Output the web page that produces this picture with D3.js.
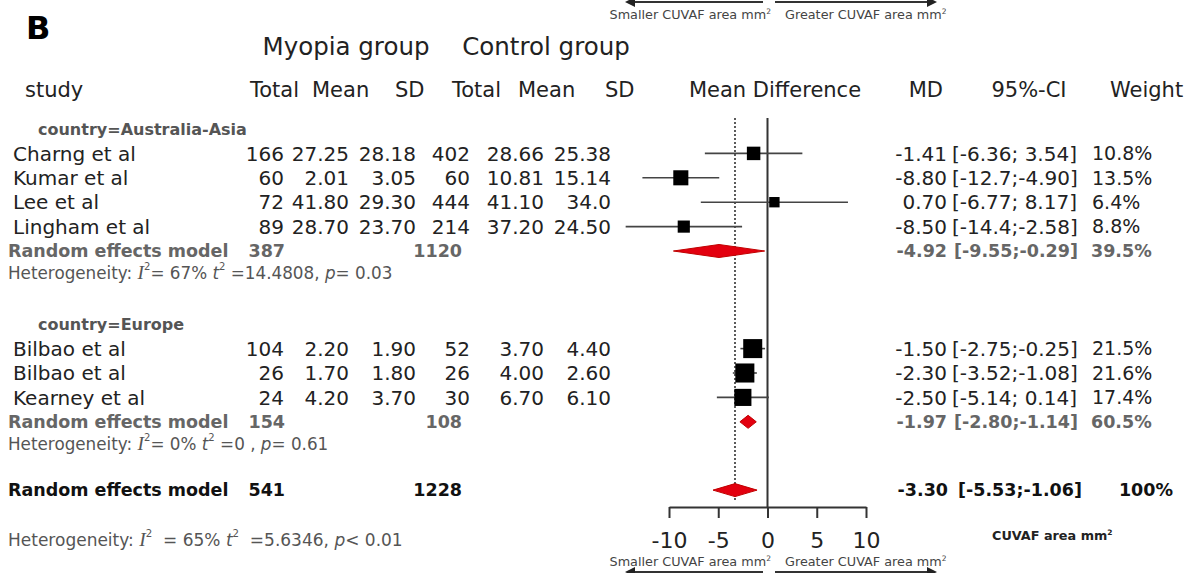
<!DOCTYPE html>
<html>
<head>
<meta charset="utf-8">
<script src="https://cdn.jsdelivr.net/npm/d3@7"></script>
<style>
  body { margin: 0; background: #fff; }
  svg { font-family: "DejaVu Sans", Verdana, sans-serif; }
</style>
</head>
<body>
<svg id="mainsvg" width="1186" height="573"></svg>
<script>
// study level data
const studies = ['Charng et al', 'Kumar et al', 'Lee et al', 'Lingham et al', 'Bilbao et al', 'Bilbao et al', 'Kearney et al'];
const country = ['Australia-Asia', 'Australia-Asia', 'Australia-Asia', 'Australia-Asia', 'Europe', 'Europe', 'Europe'];
const myopiaTotal = [166, 60, 72, 89, 104, 26, 24];
const myopiaMean = ['27.25', '2.01', '41.80', '28.70', '2.20', '1.70', '4.20'];
const myopiaSD = ['28.18', '3.05', '29.30', '23.70', '1.90', '1.80', '3.70'];
const controlTotal = [402, 60, 444, 214, 52, 26, 30];
const controlMean = ['28.66', '10.81', '41.10', '37.20', '3.70', '4.00', '6.70'];
const controlSD = ['25.38', '15.14', '34.0', '24.50', '4.40', '2.60', '6.10'];
const md = [-1.41, -8.80, 0.70, -8.50, -1.50, -2.30, -2.50];
const ciLow = [-6.36, -12.7, -6.77, -14.4, -2.75, -3.52, -5.14];
const ciHigh = [3.54, -4.90, 8.17, -2.58, -0.25, -1.08, 0.14];
const weight = [10.8, 13.5, 6.4, 8.8, 21.5, 21.6, 17.4];

// subgroup models
const subgroups = ['Australia-Asia', 'Europe'];
const subMyopiaTotal = [387, 154];
const subControlTotal = [1120, 108];
const subMD = [-4.92, -1.97];
const subLow = [-9.55, -2.80];
const subHigh = [-0.29, -1.14];
const subWeight = [39.5, 60.5];
const subI2 = ['67%', '0%'];
const subTau2 = ['14.4808', '0 '];
const subP = ['= 0.03', '= 0.61'];

// overall model
const allMyopiaTotal = 541;
const allControlTotal = 1228;
const allMD = -3.30, allLow = -5.53, allHigh = -1.06;
const allI2 = '65%', allTau2 = '5.6346', allP = '< 0.01';

const xTicks = [-10, -5, 0, 5, 10];

const svg = d3.select('#mainsvg');
const ink = '#222';
const red = '#e3000f';

const xScale = d3.scaleLinear().domain([-10, 10]).range([669, 866]);
const yScale = d3.scaleLinear().domain([0, 1]).range([129, 153.4]);
const boxSize = d3.scaleSqrt().domain([0, 25]).range([0, 20.5]);

// plain hyphen minus, as in the original table
const fmt2 = v => v.toFixed(2);
const pad5 = v => { let s = fmt2(v); if (s.length > 5) s = s.slice(0, 5); return s.padStart(5, ' '); };
const ciText = (lo, hi) => `[${pad5(lo)};${pad5(hi)}]`;

// column anchors
const col = {study: 13, n1: 284, m1: 349, s1: 416, n2: 470, m2: 544, s2: 611, md: 947, ci: 952, w: 1092};

function txt(x, y, s, opt = {}) {
  return svg.append('text')
    .attr('x', x).attr('y', y)
    .attr('dy', '0.36em')
    .attr('text-anchor', opt.anchor || 'start')
    .attr('font-size', opt.size || 20)
    .attr('font-weight', opt.bold ? 'bold' : 'normal')
    .attr('fill', opt.color || ink)
    .style('white-space', 'pre')
    .text(s);
}

// panel letter and headers
txt(26, 27, 'B', {size: 32, bold: true, color: '#000'});
txt(346, 46, 'Myopia group', {size: 24.5, anchor: 'middle'});
txt(546, 46, 'Control group', {size: 24.5, anchor: 'middle'});
txt(25, 89, 'study', {size: 21});
[['Total', 250], ['Mean', 312], ['SD', 395], ['Total', 452], ['Mean', 518], ['SD', 605]]
  .forEach(([s, x]) => txt(x, 89, s, {size: 21}));
txt(775, 89, 'Mean Difference', {size: 21, anchor: 'middle'});
txt(943, 89, 'MD', {size: 21, anchor: 'end'});
txt(1029, 89, '95%-CI', {size: 21, anchor: 'middle'});
txt(1110, 89, 'Weight', {size: 21});

// row layout
const studyRow = [1, 2, 3, 4, 9, 10, 11];
const labelRow = [0, 8];
const modelRow = [5, 12];
const hetRow = [5.9, 12.9];
const allRow = 14.8, allHetRow = 16.85;

// reference lines
svg.append('line')
  .attr('x1', xScale(0)).attr('x2', xScale(0))
  .attr('y1', 118).attr('y2', 507)
  .attr('stroke', '#333').attr('stroke-width', 2);
svg.append('line')
  .attr('x1', xScale(allMD)).attr('x2', xScale(allMD))
  .attr('y1', 118).attr('y2', 500)
  .attr('stroke', '#333').attr('stroke-width', 1.6)
  .attr('stroke-dasharray', '2,2');

// subgroup labels
subgroups.forEach((g, i) => {
  txt(38, yScale(labelRow[i]), 'country=' + g, {size: 16, bold: true, color: '#555'});
});

// study rows
studies.forEach((s, i) => {
  const y = yScale(studyRow[i]);
  txt(col.study, y, s);
  txt(col.n1, y, myopiaTotal[i], {anchor: 'end'});
  txt(col.m1, y, myopiaMean[i], {anchor: 'end'});
  txt(col.s1, y, myopiaSD[i], {anchor: 'end'});
  txt(col.n2, y, controlTotal[i], {anchor: 'end'});
  txt(col.m2, y, controlMean[i], {anchor: 'end'});
  txt(col.s2, y, controlSD[i], {anchor: 'end'});
  txt(col.md, y, fmt2(md[i]), {anchor: 'end'});
  txt(col.ci, y, ciText(ciLow[i], ciHigh[i]));
  txt(col.w, y, weight[i].toFixed(1) + '%', {size: 19});

  svg.append('line')
    .attr('x1', xScale(ciLow[i])).attr('x2', xScale(ciHigh[i]))
    .attr('y1', y).attr('y2', y)
    .attr('stroke', '#444').attr('stroke-width', 1.6);
  const b = boxSize(weight[i]);
  svg.append('rect')
    .attr('x', xScale(md[i]) - b / 2).attr('y', y - b / 2)
    .attr('width', b).attr('height', b)
    .attr('fill', '#000');
});

function diamond(lo, est, hi, y) {
  const h = 6.5;
  svg.append('path')
    .attr('d', `M${xScale(lo)},${y} L${xScale(est)},${y - h} L${xScale(hi)},${y} L${xScale(est)},${y + h} Z`)
    .attr('fill', red).attr('stroke', '#c00000').attr('stroke-width', 1);
}

function hetero(y, i2, tau2, p, size, iGap, tGap) {
  const t = svg.append('text')
    .attr('x', 8).attr('y', y).attr('dy', '0.36em')
    .attr('font-size', size).attr('fill', '#555')
    .style('white-space', 'pre');
  t.append('tspan').text('Heterogeneity: ');
  t.append('tspan').attr('font-family', 'Liberation Serif, serif').attr('font-style', 'italic').attr('font-size', size * 1.15).text('I');
  t.append('tspan').attr('font-size', size * 0.6).attr('dy', -size * 0.55).text('2');
  t.append('tspan').attr('dy', size * 0.55).text(iGap + '= ' + i2 + ' ');
  t.append('tspan').attr('font-style', 'italic').text('t');
  t.append('tspan').attr('font-size', size * 0.6).attr('dy', -size * 0.55).text('2');
  t.append('tspan').attr('dy', size * 0.55).text(tGap + '=' + tau2 + ', ');
  t.append('tspan').attr('font-style', 'italic').text('p');
  t.append('tspan').text(p);
}

// subgroup models
subgroups.forEach((g, i) => {
  const y = yScale(modelRow[i]);
  const o = {size: 17.5, bold: true, color: '#666'};
  txt(8, y, 'Random effects model', o);
  txt(col.n1 + 1, y, subMyopiaTotal[i], {...o, anchor: 'end'});
  txt(col.n2 - 8, y, subControlTotal[i], {...o, anchor: 'end'});
  txt(col.md, y, fmt2(subMD[i]), {...o, anchor: 'end'});
  txt(col.ci + 2, y, ciText(subLow[i], subHigh[i]), o);
  txt(col.w - 1, y, subWeight[i].toFixed(1) + '%', o);
  diamond(subLow[i], subMD[i], subHigh[i], y);
  hetero(yScale(hetRow[i]), subI2[i], subTau2[i], subP[i], 16.8, '', ' ');
});

// overall model
{
  const y = yScale(allRow);
  const o = {size: 17.5, bold: true, color: '#111'};
  txt(8, y, 'Random effects model', o);
  txt(col.n1 + 1, y, allMyopiaTotal, {...o, anchor: 'end'});
  txt(col.n2 - 8, y, allControlTotal, {...o, anchor: 'end'});
  txt(col.md + 1, y, fmt2(allMD), {...o, anchor: 'end'});
  txt(col.ci + 6, y, ciText(allLow, allHigh), o);
  txt(1173, y, '100%', {...o, anchor: 'end'});
  diamond(allLow, allMD, allHigh, y);
  hetero(yScale(allHetRow), allI2, allTau2, allP, 17, '  ', '  ');
}

// x axis
const axis = svg.append('g')
  .attr('transform', 'translate(0,507)')
  .call(d3.axisBottom(xScale).tickValues(xTicks).tickSize(11).tickSizeOuter(0).tickPadding(14));
axis.select('.domain').attr('stroke', '#333').attr('stroke-width', 2);
axis.selectAll('.tick line').attr('stroke', '#333').attr('stroke-width', 2);
axis.selectAll('.tick text')
  .attr('font-size', 22).attr('fill', ink)
  .attr('font-family', '"DejaVu Sans", Verdana, sans-serif')
  .text(d => (d < 0 ? '-' : '') + Math.abs(d));

// direction labels
function dirLabels(yText, yArrow) {
  const a = svg.append('text').attr('x', 771).attr('y', yText).attr('text-anchor', 'end')
    .attr('font-size', 12.8).attr('fill', '#444');
  a.append('tspan').text('Smaller CUVAF area mm');
  a.append('tspan').attr('font-size', 7.5).attr('dy', -5).text('2');
  const b = svg.append('text').attr('x', 785).attr('y', yText)
    .attr('font-size', 12.8).attr('fill', '#444');
  b.append('tspan').text('Greater CUVAF area mm');
  b.append('tspan').attr('font-size', 7.5).attr('dy', -5).text('2');
  svg.append('line').attr('x1', 763).attr('x2', 630).attr('y1', yArrow).attr('y2', yArrow)
    .attr('stroke', '#333').attr('stroke-width', 2).attr('marker-end', 'url(#arrow)');
  svg.append('line').attr('x1', 775).attr('x2', 932).attr('y1', yArrow).attr('y2', yArrow)
    .attr('stroke', '#333').attr('stroke-width', 2).attr('marker-end', 'url(#arrow)');
}
svg.append('defs').append('marker')
  .attr('id', 'arrow').attr('viewBox', '0 0 10 10').attr('refX', 5).attr('refY', 5)
  .attr('markerWidth', 5).attr('markerHeight', 5).attr('orient', 'auto')
  .append('path').attr('d', 'M0,0 L10,5 L0,10 Z').attr('fill', '#222');
dirLabels(19, 2);
dirLabels(566, 572);

// x axis title
{
  const t = svg.append('text').attr('x', 992).attr('y', 540)
    .attr('font-size', 12.8).attr('font-weight', 'bold').attr('fill', '#222');
  t.append('tspan').text('CUVAF area mm');
  t.append('tspan').attr('font-size', 7.5).attr('dy', -5).text('2');
}
</script>
</body>
</html>
